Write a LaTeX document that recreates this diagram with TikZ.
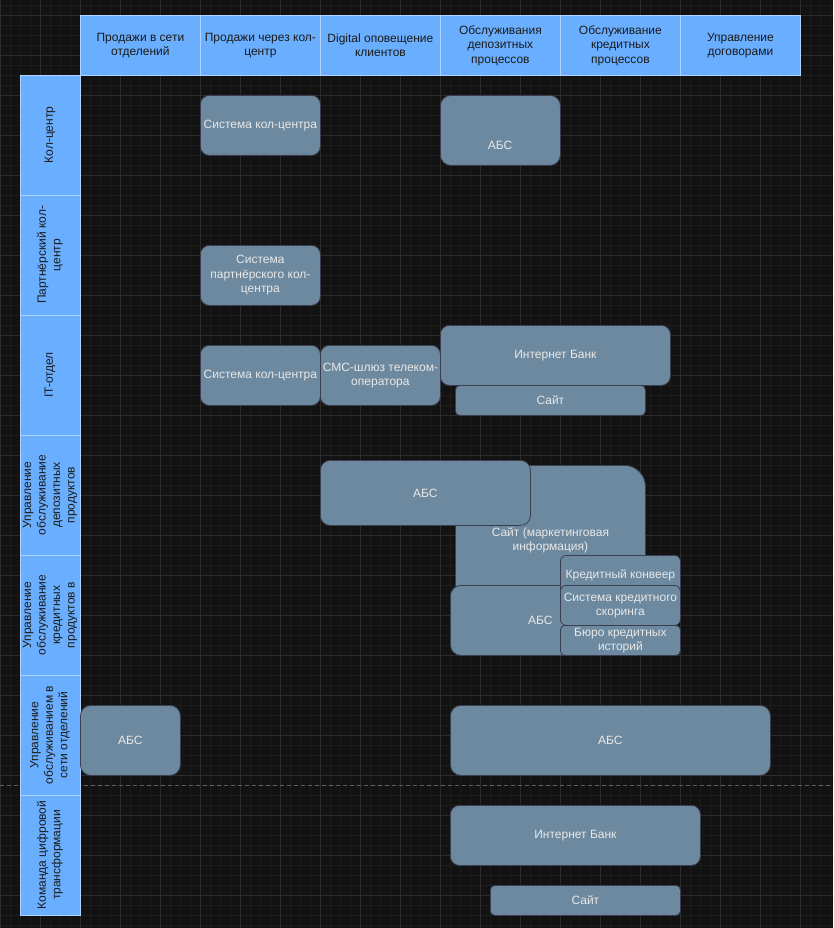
\documentclass[tikz,border=0pt]{standalone}
\usepackage{fontspec}
\setmainfont{Liberation Sans}
\definecolor{bgcol}{RGB}{18,18,18}
\definecolor{gridminor}{RGB}{28,28,28}
\definecolor{gridmajor}{RGB}{44,44,44}
\definecolor{hdrfill}{RGB}{106,175,255}
\definecolor{hdrline}{RGB}{175,212,255}
\definecolor{hdrtext}{RGB}{26,26,26}
\definecolor{boxfill}{RGB}{109,137,159}
\definecolor{boxline}{RGB}{58,62,78}
\definecolor{boxtext}{RGB}{232,232,232}
\definecolor{dashcol}{RGB}{95,95,95}
\newcommand{\myfs}{\fontsize{12}{14.5}\selectfont}
\begin{document}
\begin{tikzpicture}[x=1pt,y=-1pt,
  hdr/.style={draw=hdrline, fill=hdrfill, line width=0.8pt, minimum width=120pt, minimum height=60pt, inner sep=0pt, align=center, text=hdrtext, font=\myfs, anchor=north west},
  lane/.style={draw=hdrline, fill=hdrfill, line width=0.8pt, minimum width=120pt, minimum height=60pt, inner sep=0pt, align=center, text=hdrtext, font=\myfs, rotate=90},
  sys/.style={draw=boxline, fill=boxfill, line width=0.8pt, inner sep=0pt, align=center, text=boxtext, font=\myfs, anchor=north west},
  plain/.style={inner sep=0pt, align=center, text=boxtext, font=\myfs}]
\useasboundingbox (0,0) rectangle (833,928);
\fill[bgcol] (0,0) rectangle (833,928);
% grid
\foreach \x in {0,10,...,830} \draw[gridminor, line width=0.5pt] (\x,0) -- (\x,928);
\foreach \y in {5,15,...,925} \draw[gridminor, line width=0.5pt] (0,\y) -- (833,\y);
\foreach \x in {0,40,...,800} \draw[gridmajor, line width=0.7pt] (\x,0) -- (\x,928);
\foreach \y in {15,55,...,895} \draw[gridmajor, line width=0.7pt] (0,\y) -- (833,\y);
% dashed separator
\coordinate (dl) at (0,785.5);
\coordinate (dr) at (833,785.5);
\draw[dashcol, line width=0.8pt, dash pattern=on 4pt off 3pt] (dl) -- (dr);
% header
\node[hdr] (h1) at (80,15) {Продажи в сети\\отделений};
\node[hdr] (h2) at (200,15) {Продажи через кол-\\центр};
\node[hdr] (h3) at (320,15) {Digital оповещение\\клиентов};
\node[hdr] (h4) at (440,15) {Обслуживания\\депозитных\\процессов};
\node[hdr] (h5) at (560,15) {Обслуживание\\кредитных\\процессов};
\node[hdr] (h6) at (680,15) {Управление\\договорами};
% lanes
\node[lane] (l1) at (50,135) {Кол-центр};
\node[lane] (l2) at (50,255) {Партнёрский кол-\\центр};
\node[lane] (l3) at (50,375) {IT-отдел};
\node[lane] (l4) at (50,495) {Управление\\обслуживание\\депозитных\\продуктов};
\node[lane] (l5) at (50,615) {Управление\\обслуживание\\кредитных\\продуктов в};
\node[lane] (l6) at (50,735) {Управление\\обслуживанием в\\сети отделений};
\node[lane] (l7) at (50,855) {Команда цифровой\\трансформации};
% systems
\node[sys, rounded corners=9pt, minimum width=120pt, minimum height=60pt] (cc1) at (200,95) {Система кол-центра};
\node[sys, rounded corners=10.5pt, minimum width=120pt, minimum height=70pt] (abs1) at (440,95) {};
\node[plain] (abs1t) at (500,145) {АБС};
\node[sys, rounded corners=9pt, minimum width=120pt, minimum height=60pt] (pcc) at (200,245) {Система\\партнёрского кол-\\центра};
\node[sys, rounded corners=9pt, minimum width=120pt, minimum height=60pt] (cc2) at (200,345) {Система кол-центра};
\node[sys, rounded corners=9pt, minimum width=120pt, minimum height=60pt] (sms) at (320,345) {СМС-шлюз телеком-\\оператора};
\node[sys, rounded corners=9pt, minimum width=230pt, minimum height=60pt] (ib1) at (440,325) {Интернет Банк};
\node[sys, rounded corners=4.5pt, minimum width=190pt, minimum height=30pt] (site1) at (455,385) {Сайт};
\node[sys, rounded corners=21pt, minimum width=190pt, minimum height=150pt] (sitem) at (455,465) {Сайт (маркетинговая\\информация)};
\node[sys, rounded corners=9.75pt, minimum width=210pt, minimum height=65pt] (abs2) at (320,460) {АБС};
\node[sys, rounded corners=10.5pt, minimum width=180pt, minimum height=70pt] (abs3) at (450,585) {АБС};
\node[sys, rounded corners=6pt, minimum width=120pt, minimum height=40pt] (conv) at (560,555) {Кредитный конвеер};
\node[sys, rounded corners=6pt, minimum width=120pt, minimum height=40pt] (scor) at (560,585) {Система кредитного\\скоринга};
\node[sys, rounded corners=4.5pt, minimum width=120pt, minimum height=30pt] (buro) at (560,625) {Бюро кредитных\\историй};
\node[sys, rounded corners=10.5pt, minimum width=100pt, minimum height=70pt] (abs4) at (80,705) {АБС};
\node[sys, rounded corners=10.5pt, minimum width=320pt, minimum height=70pt] (abs5) at (450,705) {АБС};
\node[sys, rounded corners=9pt, minimum width=250pt, minimum height=60pt] (ib2) at (450,805) {Интернет Банк};
\node[sys, rounded corners=4.5pt, minimum width=190pt, minimum height=30pt] (site2) at (490,885) {Сайт};
\end{tikzpicture}
\end{document}
